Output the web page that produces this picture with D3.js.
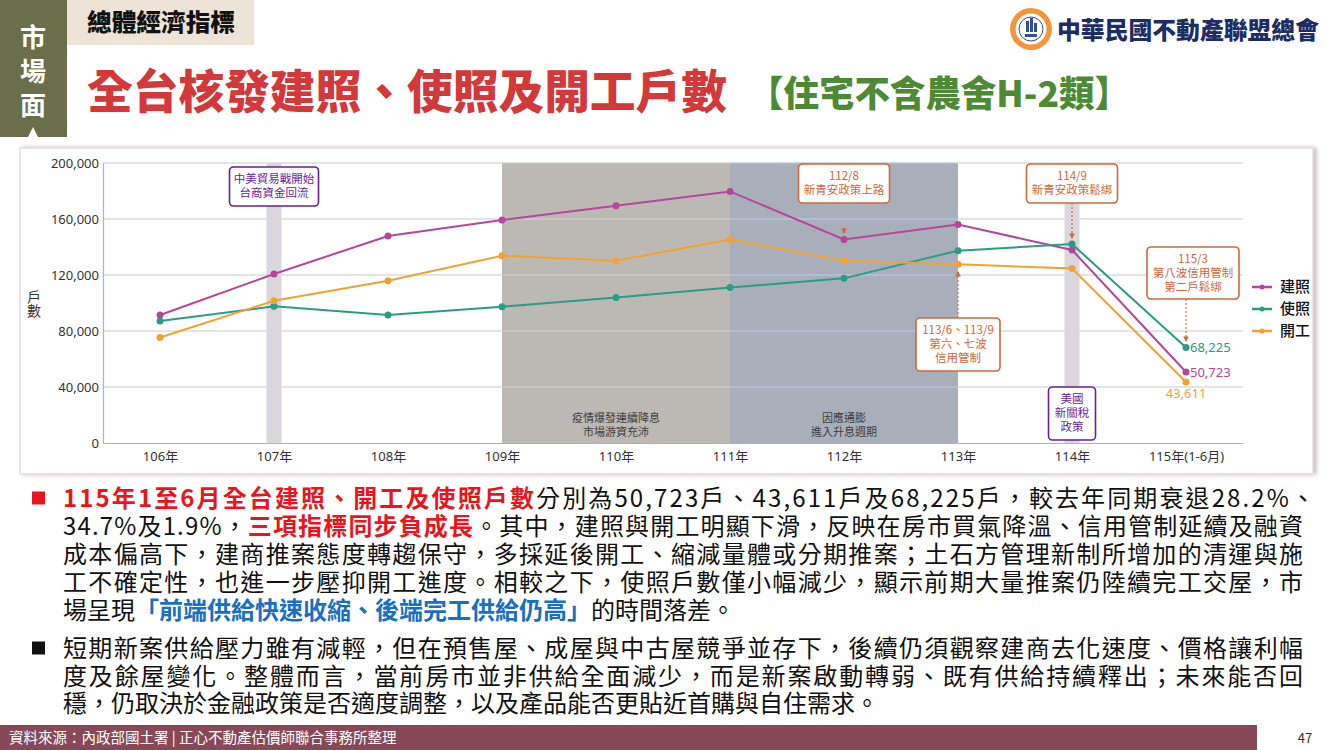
<!DOCTYPE html>
<html>
<head>
<meta charset="utf-8">
<script src="https://cdn.jsdelivr.net/npm/d3@7"></script>
<style>
  body { margin: 0; background: #fff; }
  svg { display: block; }
</style>
</head>
<body>
<script>
// Chart data
var years = ["106年", "107年", "108年", "109年", "110年", "111年", "112年", "113年", "114年", "115年(1-6月)"];
var buildPermits = [91400, 120700, 147900, 159300, 169500, 179700, 145400, 156100, 137900, 50723];   // 建照
var usePermits = [87100, 97600, 91400, 97400, 104000, 111100, 117600, 137400, 142100, 68225];        // 使照
var startCounts = [75400, 101600, 115900, 133800, 130200, 145400, 130200, 127600, 124700, 43611];    // 開工
var seriesNames = ["建照", "使照", "開工"];
var yTicks = [0, 40000, 80000, 120000, 160000, 200000];

// Text blocks
var bodyParagraphs = [
  [
    [["115年1至6月全台建照、開工及使照戶數", "red"], ["分別為50,723戶、43,611戶及68,225戶，較去年同期衰退28.2%、", ""]],
    [["34.7%及1.9%，", ""], ["三項指標同步負成長", "red"], ["。其中，建照與開工明顯下滑，反映在房市買氣降溫、信用管制延續及融資", ""]],
    [["成本偏高下，建商推案態度轉趨保守，多採延後開工、縮減量體或分期推案；土石方管理新制所增加的清運與施", ""]],
    [["工不確定性，也進一步壓抑開工進度。相較之下，使照戶數僅小幅減少，顯示前期大量推案仍陸續完工交屋，市", ""]],
    [["場呈現", ""], ["「前端供給快速收縮、後端完工供給仍高」", "blue"], ["的時間落差。", ""]]
  ],
  [
    [["短期新案供給壓力雖有減輕，但在預售屋、成屋與中古屋競爭並存下，後續仍須觀察建商去化速度、價格讓利幅", ""]],
    [["度及餘屋變化。整體而言，當前房市並非供給全面減少，而是新案啟動轉弱、既有供給持續釋出；未來能否回", ""]],
    [["穩，仍取決於金融政策是否適度調整，以及產品能否更貼近首購與自住需求。", ""]]
  ]
];

var W = 1330, H = 750;
var cjk = "'Noto Sans CJK TC', 'Noto Sans', sans-serif";

var svg = d3.select("body").append("svg")
  .attr("width", W)
  .attr("height", H)
  .style("font-family", cjk);

var defs = svg.append("defs");
defs.append("filter").attr("id", "shadow")
  .attr("x", "-2%").attr("y", "-5%").attr("width", "104%").attr("height", "110%")
  .append("feDropShadow")
  .attr("dx", 3).attr("dy", 0).attr("stdDeviation", 2)
  .attr("flood-color", "#999").attr("flood-opacity", 0.6);

defs.append("marker").attr("id", "arrow")
  .attr("viewBox", "0 0 6 6").attr("refX", 5).attr("refY", 3)
  .attr("markerWidth", 5).attr("markerHeight", 5).attr("orient", "auto")
  .append("path").attr("d", "M0,0 L6,3 L0,6 Z").attr("fill", "#c9673f");

// ---------- Header ----------
svg.append("rect").attr("x", 0).attr("y", 0).attr("width", 67).attr("height", 137).attr("fill", "#6b6e4b");
["市", "場", "面"].forEach(function(c, i) {
  svg.append("text")
    .attr("x", 33).attr("y", 47 + i * 34)
    .attr("text-anchor", "middle")
    .attr("fill", "#fff").attr("font-size", 26).attr("font-weight", 700)
    .text(c);
});
svg.append("path").attr("d", "M33,127 L28,137 L38,137 Z").attr("fill", "#fff");

svg.append("rect").attr("x", 67).attr("y", 0).attr("width", 187).attr("height", 45).attr("fill", "#ede3d6");
svg.append("text").attr("x", 87).attr("y", 31)
  .attr("font-size", 24).attr("font-weight", 900).attr("fill", "#111")
  .attr("textLength", 148).attr("lengthAdjust", "spacingAndGlyphs")
  .text("總體經濟指標");

svg.append("text").attr("x", 87).attr("y", 108)
  .attr("font-size", 46).attr("font-weight", 900).attr("fill", "#d3383a")
  .attr("textLength", 640).attr("lengthAdjust", "spacingAndGlyphs")
  .text("全台核發建照、使照及開工戶數");
svg.append("text").attr("x", 748).attr("y", 107)
  .attr("font-size", 36).attr("font-weight", 900).attr("fill", "#4e8a36")
  .attr("textLength", 382).attr("lengthAdjust", "spacingAndGlyphs")
  .text("【住宅不含農舍H-2類】");

// logo
var logo = svg.append("g").attr("transform", "translate(1031,29)");
logo.append("circle").attr("r", 21).attr("fill", "#f3953b");
logo.append("circle").attr("r", 15.5).attr("fill", "#fff");
logo.append("circle").attr("r", 12).attr("fill", "none").attr("stroke", "#2f4f9e").attr("stroke-width", 1);
logo.append("rect").attr("x", -5).attr("y", -8).attr("width", 3).attr("height", 11).attr("fill", "#2f4f9e");
logo.append("rect").attr("x", -1).attr("y", -11).attr("width", 3).attr("height", 14).attr("fill", "#2f4f9e");
logo.append("rect").attr("x", 3).attr("y", -6).attr("width", 3).attr("height", 9).attr("fill", "#2f4f9e");
logo.append("rect").attr("x", -6).attr("y", 5).attr("width", 12).attr("height", 3).attr("fill", "#2f4f9e");
svg.append("text").attr("x", 1057).attr("y", 39)
  .attr("font-size", 24).attr("font-weight", 900).attr("fill", "#1d2c63")
  .attr("textLength", 262).attr("lengthAdjust", "spacingAndGlyphs")
  .text("中華民國不動產聯盟總會");

// ---------- Chart frame ----------
svg.append("rect")
  .attr("x", 20).attr("y", 148).attr("width", 1293).attr("height", 326)
  .attr("fill", "#fff").attr("stroke", "#f1d9da").attr("stroke-width", 1.5)
  .attr("filter", "url(#shadow)");

var plot = { left: 103, right: 1243, top: 163, bottom: 443 };

var x = d3.scalePoint()
  .domain(years)
  .range([plot.left, plot.right])
  .padding(0.5);

var y = d3.scaleLinear()
  .domain([0, 200000])
  .range([plot.bottom, plot.top]);

var chart = svg.append("g").style("font-family", "'Noto Sans', " + cjk);

// gridlines under the shading
chart.selectAll(".grid")
  .data(yTicks.slice(1))
  .enter().append("line")
  .attr("x1", plot.left).attr("x2", plot.right)
  .attr("y1", function(d) { return y(d); })
  .attr("y2", function(d) { return y(d); })
  .attr("stroke", "#c3cfcf").attr("stroke-width", 1);

// shaded periods
var periods = [
  { x0: x("107年") - 7.5, x1: x("107年") + 7.5, fill: "#d9d6dc", grid: null },
  { x0: x("109年"), x1: x("111年"), fill: "#bcb9b4", grid: "#d6d4d0" },
  { x0: x("111年"), x1: x("113年"), fill: "#a9afba", grid: "#b9cde0" },
  { x0: x("114年") - 7.5, x1: x("114年") + 7.5, fill: "#d9d6dc", grid: null }
];
periods.forEach(function(p) {
  chart.append("rect")
    .attr("x", p.x0).attr("y", plot.top)
    .attr("width", p.x1 - p.x0).attr("height", plot.bottom - plot.top)
    .attr("fill", p.fill);
  if (p.grid) {
    yTicks.slice(1).forEach(function(t) {
      chart.append("line")
        .attr("x1", p.x0).attr("x2", p.x1)
        .attr("y1", y(t)).attr("y2", y(t))
        .attr("stroke", p.grid).attr("stroke-width", 1);
    });
  }
});

// period captions
[["疫情爆發連續降息", "市場游資充沛", "110年"], ["因應通膨", "進入升息週期", "112年"]].forEach(function(c) {
  var t = chart.append("text")
    .attr("x", x(c[2])).attr("y", 422)
    .attr("text-anchor", "middle").attr("font-size", 11).attr("fill", "#3c3c3c")
    .style("font-family", cjk);
  t.append("tspan").attr("x", x(c[2])).attr("dy", 0).text(c[0]);
  t.append("tspan").attr("x", x(c[2])).attr("dy", 14).text(c[1]);
});

// axes
var leftAxis = d3.axisLeft(y).tickValues(yTicks).tickSize(0).tickPadding(4).tickFormat(d3.format(","));
var bottomAxis = d3.axisBottom(x).tickSize(0).tickPadding(9);

var yAxis = chart.append("g")
  .attr("transform", "translate(" + plot.left + ",0)")
  .call(leftAxis);
var xAxis = chart.append("g")
  .attr("transform", "translate(0," + plot.bottom + ")")
  .call(bottomAxis);

[yAxis, xAxis].forEach(function(a) {
  a.select(".domain").attr("stroke", "#aab6b6").attr("stroke-width", 1.2);
  a.selectAll("text").attr("font-size", 13).attr("fill", "#333").style("font-family", "'Noto Sans', " + cjk);
});

// vertical axis title
chart.append("text")
  .attr("x", 34).attr("y", 290)
  .attr("font-size", 14).attr("fill", "#333")
  .style("font-family", cjk)
  .style("writing-mode", "vertical-rl")
  .style("text-orientation", "upright")
  .text("戶數");

// series
var colors = ["#b5479b", "#2b9c84", "#f0a233"];
var allSeries = [buildPermits, usePermits, startCounts];

var line = d3.line()
  .x(function(d, i) { return x(years[i]); })
  .y(function(d) { return y(d); });

allSeries.forEach(function(values, k) {
  chart.append("path")
    .datum(values)
    .attr("d", line)
    .attr("fill", "none")
    .attr("stroke", colors[k])
    .attr("stroke-width", 2);
  chart.selectAll(".pt" + k)
    .data(values)
    .enter().append("circle")
    .attr("cx", function(d, i) { return x(years[i]); })
    .attr("cy", function(d) { return y(d); })
    .attr("r", 3.5)
    .attr("fill", colors[k]);
});

// end labels
var lastYear = years[years.length - 1];
var last = years.length - 1;
chart.append("text").attr("x", x(lastYear) + 4).attr("y", y(usePermits[last]) + 5)
  .attr("font-size", 13).attr("fill", colors[1]).text(d3.format(",")(usePermits[last]));
chart.append("text").attr("x", x(lastYear) + 4).attr("y", y(buildPermits[last]) + 5)
  .attr("font-size", 13).attr("fill", colors[0]).text(d3.format(",")(buildPermits[last]));
chart.append("text").attr("x", x(lastYear)).attr("y", y(startCounts[last]) + 16)
  .attr("text-anchor", "middle")
  .attr("font-size", 13).attr("fill", colors[2]).text(d3.format(",")(startCounts[last]));

// legend
seriesNames.forEach(function(name, k) {
  var ly = 287 + k * 22;
  chart.append("line").attr("x1", 1252).attr("x2", 1272).attr("y1", ly).attr("y2", ly)
    .attr("stroke", colors[k]).attr("stroke-width", 2.5);
  chart.append("circle").attr("cx", 1262).attr("cy", ly).attr("r", 2.5).attr("fill", colors[k]);
  chart.append("text").attr("x", 1280).attr("y", ly + 5)
    .attr("font-size", 15).attr("font-weight", 500).attr("fill", "#111")
    .style("font-family", cjk).text(name);
});

// annotations
var orange = "#d0683d", purple = "#6a1f98";
function note(cx, y0, w, h, lines, color) {
  chart.append("rect")
    .attr("x", cx - w / 2).attr("y", y0).attr("width", w).attr("height", h)
    .attr("rx", 4).attr("fill", "#fff").attr("stroke", color).attr("stroke-width", 1.6);
  lines.forEach(function(s, i) {
    chart.append("text")
      .attr("x", cx).attr("y", y0 + 16 + i * 14)
      .attr("text-anchor", "middle").attr("font-size", 11.5).attr("fill", color)
      .style("font-family", cjk)
      .text(s);
  });
}
function pointer(x0, y0, y1) {
  chart.append("line")
    .attr("x1", x0).attr("x2", x0).attr("y1", y0).attr("y2", y1)
    .attr("stroke", orange).attr("stroke-width", 1.1).attr("stroke-dasharray", "2,2")
    .attr("marker-end", "url(#arrow)");
}

note(x("107年"), 167, 89, 39, ["中美貿易戰開始", "台商資金回流"], purple);
note(x("112年"), 164, 91, 39, ["112/8", "新青安政策上路"], orange);
pointer(x("112年"), 228, 233);
pointer(x("113年"), 318, 272);
note(x("113年"), 318, 84, 53, ["113/6、113/9", "第六、七波", "信用管制"], orange);
pointer(x("114年"), 203, 238);
note(x("114年"), 164, 91, 39, ["114/9", "新青安政策鬆綁"], orange);
pointer(x("115年(1-6月)"), 299, 341);
note(x("115年(1-6月)") + 7, 247, 92, 52, ["115/3", "第八波信用管制", "第二戶鬆綁"], orange);
note(x("114年"), 387, 47, 53, ["美國", "新關稅", "政策"], purple);

// ---------- Body text ----------
var hlStyle = {
  "": { fill: "#111", weight: 400 },
  "red": { fill: "#e8161c", weight: 700 },
  "blue": { fill: "#1b6fc2", weight: 700 }
};
var bulletColors = ["#e8161c", "#111"];
var paraTop = [498, 648];
var lineGap = [28, 27.5];
var textLeft = 63, textRight = 1303;

bodyParagraphs.forEach(function(para, p) {
  svg.append("rect")
    .attr("x", 32).attr("y", paraTop[p] - 6.5).attr("width", 13).attr("height", 13)
    .attr("fill", bulletColors[p]);
  para.forEach(function(parts, li) {
    var t = svg.append("text")
      .attr("x", textLeft)
      .attr("y", paraTop[p] + li * lineGap[p] + 9)
      .attr("font-size", 24);
    parts.forEach(function(part) {
      t.append("tspan")
        .attr("fill", hlStyle[part[1]].fill)
        .attr("font-weight", hlStyle[part[1]].weight)
        .text(part[0]);
    });
    // justify every line except the last one of a paragraph
    if (li < para.length - 1) {
      var natural = t.node().getComputedTextLength();
      var n = parts.map(function(d) { return d[0]; }).join("").length;
      var target = textRight - textLeft + (p === 0 && li === 0 ? 12 : 0);
      var ls = (target - natural) / (n - 1);
      t.attr("letter-spacing", ls);
    }
  });
});

// ---------- Footer ----------
svg.append("rect").attr("x", 0).attr("y", 725).attr("width", 1257).attr("height", 25).attr("fill", "#874958");
svg.append("text").attr("x", 9).attr("y", 743)
  .attr("font-size", 14.5).attr("fill", "#fff")
  .text("資料來源：內政部國土署 | 正心不動產估價師聯合事務所整理");
svg.append("text").attr("x", 1305).attr("y", 743).attr("text-anchor", "middle")
  .attr("font-size", 13).attr("fill", "#333")
  .text("47");
</script>
</body>
</html>
